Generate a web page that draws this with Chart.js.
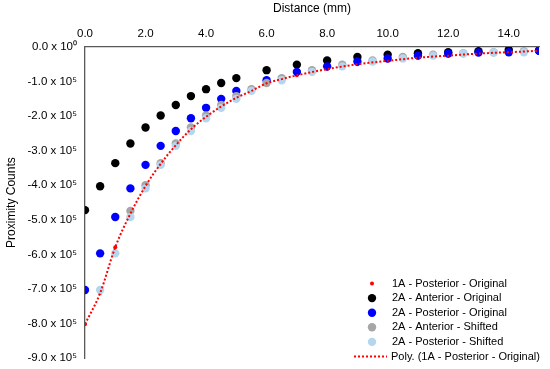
<!DOCTYPE html>
<html>
<head>
<meta charset="utf-8">
<script src="https://cdn.jsdelivr.net/npm/chart.js@4"></script>
<style>
  html, body { margin: 0; padding: 0; background: #fff; }
  #wrap { width: 550px; height: 369px; position: relative; }
</style>
</head>
<body>
<div id="wrap"><canvas id="proxChart"></canvas></div>
<script>
// distances (mm) and counts
const post1AX = [0, 0.5, 1, 1.5, 2, 2.5, 3, 3.5, 4, 4.5, 5, 5.5, 6, 6.5, 7, 8, 9, 10, 11, 12, 13, 14, 15];
const post1AY = [-802000, -712000, -579000, -482000, -402000, -338000, -284000, -238000, -202000, -172000, -147000, -127000, -105000, -93000, -82000, -64000, -50000, -40000, -31000, -25000, -19000, -15000, -11000];

const antOrigX = [0, 0.5, 1, 1.5, 2, 2.5, 3, 3.5, 4, 4.5, 5, 6, 7, 8, 9, 10, 11, 12, 13, 14, 15];
const antOrigY = [-472000, -403000, -336000, -279000, -233000, -198000, -168000, -142000, -122000, -104000, -90000, -67000, -51000, -39000, -29000, -22000, -18000, -15000, -12000, -8000, -10000];

const postOrigX = [0, 0.5, 1, 1.5, 2, 2.5, 3, 3.5, 4, 4.5, 5, 6, 7, 8, 9, 10, 11, 12, 13, 14, 15];
const postOrigY = [-703000, -597000, -492000, -409000, -341000, -286000, -243000, -206000, -176000, -150000, -127000, -96000, -72000, -56000, -42000, -33000, -25000, -19000, -16000, -15000, -11000];

const antShiftX = [1.5, 2, 2.5, 3, 3.5, 4, 4.5, 5, 5.5, 6, 6.5, 7.5, 8.5, 9.5, 10.5, 11.5, 12.5, 13.5, 14.5];
const antShiftY = [-474000, -400000, -336000, -279000, -233000, -198000, -168000, -142000, -122000, -104000, -90000, -67000, -51000, -39000, -29000, -22000, -18000, -15000, -12000];

const postShiftX = [0.5, 1, 1.5, 2, 2.5, 3, 3.5, 4, 4.5, 5, 5.5, 6.5, 7.5, 8.5, 9.5, 10.5, 11.5, 12.5, 13.5, 14.5];
const postShiftY = [-703000, -597000, -492000, -409000, -341000, -286000, -243000, -206000, -176000, -150000, -127000, -96000, -72000, -56000, -42000, -33000, -25000, -19000, -16000, -15000];

const xTicks = [0, 2, 4, 6, 8, 10, 12, 14];
const yTicks = [0, -100000, -200000, -300000, -400000, -500000, -600000, -700000, -800000, -900000];

const seriesNames = [
  '1A - Posterior - Original',
  '2A - Anterior - Original',
  '2A - Posterior - Original',
  '2A - Anterior - Shifted',
  '2A - Posterior - Shifted',
  'Poly. (1A - Posterior - Original)'
];

function pts(xs, ys) {
  return xs.map((x, i) => ({ x: x, y: ys[i] }));
}

const FONT = 'Liberation Sans, Arial, sans-serif';

// legend drawn inside the plot, bottom right
const insideLegend = {
  id: 'insideLegend',
  afterDraw(chart) {
    const ctx = chart.ctx;
    const sets = chart.data.datasets;
    const markX = 372, textX = 392, y0 = 283.5, step = 14.6;
    ctx.save();
    ctx.font = '11px ' + FONT;
    ctx.textBaseline = 'middle';
    sets.forEach((ds, i) => {
      const y = y0 + i * step;
      if (ds.legendLine) {
        ctx.strokeStyle = ds.borderColor;
        ctx.lineWidth = 2;
        ctx.setLineDash([2, 2]);
        ctx.beginPath();
        ctx.moveTo(354, y);
        ctx.lineTo(387, y);
        ctx.stroke();
        ctx.setLineDash([]);
      } else {
        ctx.beginPath();
        ctx.fillStyle = ds.backgroundColor;
        ctx.arc(markX, y, ds.pointRadius, 0, Math.PI * 2);
        ctx.fill();
      }
      ctx.fillStyle = '#000';
      ctx.fillText(ds.label, i === 5 ? 391 : textX, y);
    });
    ctx.restore();
  }
};

new Chart(document.getElementById('proxChart'), {
  type: 'scatter',
  data: {
    datasets: [
      {
        label: seriesNames[0], data: pts(post1AX, post1AY),
        backgroundColor: '#ff0000', borderWidth: 0, pointRadius: 2, order: 5
      },
      {
        label: seriesNames[1], data: pts(antOrigX, antOrigY),
        backgroundColor: '#000000', borderWidth: 0, pointRadius: 4.2, order: 4
      },
      {
        label: seriesNames[2], data: pts(postOrigX, postOrigY),
        backgroundColor: '#0000ff', borderWidth: 0, pointRadius: 4.2, order: 3
      },
      {
        label: seriesNames[3], data: pts(antShiftX, antShiftY),
        backgroundColor: '#a6a6a6', borderWidth: 0, pointRadius: 4.2, order: 2
      },
      {
        label: seriesNames[4], data: pts(postShiftX, postShiftY),
        backgroundColor: '#b4d6ee', borderWidth: 0, pointRadius: 4.2, order: 1
      },
      {
        label: seriesNames[5], data: pts(post1AX, post1AY),
        showLine: true, legendLine: true,
        borderColor: '#ff0000', borderWidth: 2, borderDash: [2, 2],
        pointRadius: 0, cubicInterpolationMode: 'monotone', order: 0
      }
    ]
  },
  options: {
    responsive: true,
    maintainAspectRatio: false,
    animation: false,
    layout: { padding: { left: 0, right: 11, top: 0, bottom: 7 } },
    plugins: {
      legend: { display: false },
      tooltip: { enabled: false }
    },
    scales: {
      x: {
        type: 'linear', position: 'top', min: 0, max: 15,
        afterBuildTicks: (s) => { s.ticks = xTicks.map(v => ({ value: v })); },
        afterFit: (s) => { s.height = 47; },
        grid: { display: false, drawOnChartArea: false, tickLength: 4, color: '#595959' },
        border: { display: true, color: '#595959', width: 1.3 },
        ticks: {
          color: '#000', font: { family: FONT, size: 11.5 }, padding: 2,
          maxRotation: 0, callback: (v) => v.toFixed(1)
        },
        title: {
          display: true, text: 'Distance (mm)', color: '#000',
          font: { family: FONT, size: 12 }, padding: { top: 1, bottom: 4 }
        }
      },
      y: {
        type: 'linear', min: -900000, max: 0,
        afterBuildTicks: (s) => { s.ticks = yTicks.map(v => ({ value: v })); },
        afterFit: (s) => { s.width = 85; },
        grid: { display: false, drawOnChartArea: false, tickLength: 4, color: '#595959' },
        border: { display: true, color: '#595959', width: 1.3 },
        ticks: {
          color: '#000', font: { family: FONT, size: 11.5 }, padding: 4,
          callback: (v) => v === 0 ? '0.0 x 10\u2070' : (v / 100000).toFixed(1) + ' x 10\u2075'
        },
        title: {
          display: true, text: 'Proximity Counts', color: '#000',
          font: { family: FONT, size: 12 }, padding: { top: 4, bottom: 0 }
        }
      }
    }
  },
  plugins: [insideLegend]
});
</script>
</body>
</html>
